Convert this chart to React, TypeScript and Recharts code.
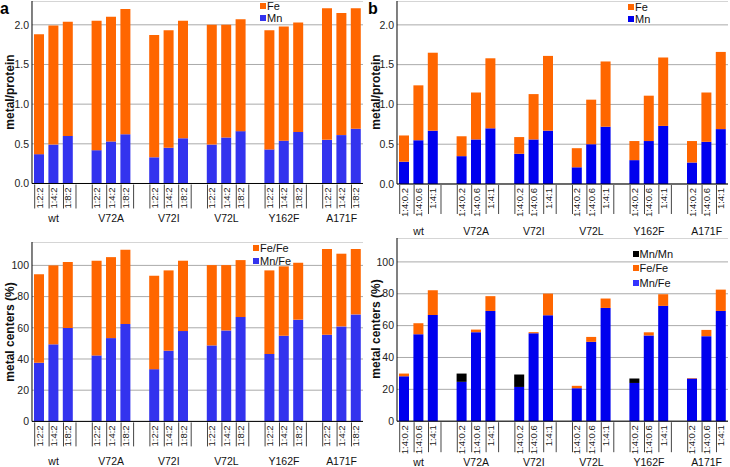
import React from 'react';
import { BarChart, Bar, XAxis, YAxis, CartesianGrid } from 'recharts';

const FONT = '"Liberation Sans", Arial, sans-serif';
const ORANGE = '#ff6600';
const BLUE_LIGHT = '#3333ee';
const BLUE = '#0000ee';
const BLACK = '#000000';

const groups = ['wt', 'V72A', 'V72I', 'V72L', 'Y162F', 'A171F'];
const ratiosA = ['1:2:2', '1:4:2', '1:8:2'];
const ratiosB = ['1:4:0.2', '1:4:0.6', '1:4:1'];

// panel a: metal/protein, Mn:Fe:protein series
const mnA = [0.37, 0.49, 0.6, 0.42, 0.53, 0.62, 0.33, 0.45, 0.57, 0.49, 0.58, 0.66, 0.43, 0.54, 0.65, 0.55, 0.61, 0.69];
const feA = [1.51, 1.5, 1.44, 1.63, 1.57, 1.58, 1.54, 1.48, 1.48, 1.51, 1.42, 1.41, 1.5, 1.44, 1.38, 1.66, 1.54, 1.52];

// panel b: metal/protein, Fe titration
const mnB = [0.28, 0.55, 0.67, 0.35, 0.56, 0.7, 0.38, 0.56, 0.67, 0.21, 0.5, 0.72, 0.3, 0.54, 0.73, 0.27, 0.53, 0.69];
const feB = [0.33, 0.69, 0.98, 0.25, 0.59, 0.88, 0.21, 0.57, 0.94, 0.24, 0.56, 0.82, 0.24, 0.57, 0.86, 0.27, 0.62, 0.97];

// panel c: metal centers (%)
const mnFeC = [37.6, 49.4, 59.8, 42.3, 53.4, 62.4, 33.5, 45.3, 57.9, 48.7, 58.3, 66.9, 43.2, 54.9, 65.2, 55.6, 60.9, 68.6];
const feFeC = [56.8, 50.6, 42.3, 60.7, 51.9, 47.6, 59.9, 51.5, 45.1, 51.5, 41.9, 36.5, 53.6, 44.5, 36.5, 54.9, 46.6, 41.9];

// panel d: metal centers (%)
const mnFeD = [28.2, 54.6, 66.7, 24.7, 55.9, 69.2, 21.5, 55.2, 66.5, 20.7, 49.8, 71.1, 24.0, 53.8, 72.4, 26.8, 53.4, 69.2];
const feFeD = [1.7, 6.9, 15.5, 0, 1.6, 9.3, 0, 0.7, 13.6, 1.5, 3.1, 5.9, 0, 2.0, 7.3, 0.3, 3.9, 13.4];
const mnMnD = [0, 0, 0, 5.2, 0, 0, 7.8, 0, 0, 0, 0, 0, 2.8, 0, 0, 0, 0, 0];

const ticksProtein = [0, 0.5, 1, 1.5, 2];
const ticksPercent = [0, 20, 40, 60, 80, 100];

type Row = { key: string; group: string; label: string; pos: number; [k: string]: any };

function buildRows(labels: string[], series: Record<string, number[]>): Row[] {
  const rows: Row[] = [];
  groups.forEach((g, gi) => {
    labels.forEach((lab, li) => {
      const row: Row = { key: `${g}|${lab}`, group: g, label: lab, pos: li };
      Object.keys(series).forEach((k) => {
        row[k] = series[k][gi * 3 + li];
      });
      rows.push(row);
    });
    if (gi < groups.length - 1) rows.push({ key: `gap${gi}`, group: g, label: '', pos: -1 });
  });
  return rows;
}

const rowsA = buildRows(ratiosA, { mn: mnA, fe: feA });
const rowsB = buildRows(ratiosB, { mn: mnB, fe: feB });
const rowsC = buildRows(ratiosA, { mnfe: mnFeC, fefe: feFeC });
const rowsD = buildRows(ratiosB, { mnfe: mnFeD, fefe: feFeD, mnmn: mnMnD });

const makeTick = (rows: Row[], boxH: number, groupDy: number) => (props: any) => {
  const { x, y, payload } = props;
  const row = rows.find((r) => r.key === payload.value);
  if (!row || row.pos < 0) return <g />;
  return (
    <g>
      <line x1={x - 4.5} x2={x - 4.5} y1={y + 1} y2={y + boxH} stroke="#444" strokeWidth={1} />
      {row.pos === 2 && <line x1={x + 8} x2={x + 8} y1={y + 1} y2={y + boxH} stroke="#444" strokeWidth={1} />}
      <text
        transform={`rotate(-90, ${x}, ${y + 4})`}
        x={x}
        y={y + 4}
        dy="0.35em"
        textAnchor="end"
        fontSize={9.5}
        fill="#222"
        fontFamily={FONT}
      >
        {row.label}
      </text>
      {row.pos === 1 && (
        <text x={x} y={y + groupDy} textAnchor="middle" fontSize={10.5} fill="#111" fontFamily={FONT}>
          {row.group}
        </text>
      )}
    </g>
  );
};

interface PanelProps {
  rows: Row[];
  bars: { key: string; color: string }[];
  max: number;
  ticks: number[];
  digits: number;
  left: number;
  top: number;
  plotW: number;
  plotH: number;
  axisH: number;
  boxH: number;
  groupDy: number;
  yLabel: string;
  labelX: number;
  legend: { name: string; color: string }[];
  legendX: number;
  legendY: number;
  legendGap: number;
}

const YW = 32;

const Panel: React.FC<PanelProps> = (p) => {
  const labelY = p.top + p.plotH / 2;
  return (
    <>
      <div style={{ position: 'absolute', left: p.left - YW, top: p.top }}>
        <BarChart
          width={YW + p.plotW}
          height={p.plotH + p.axisH}
          data={p.rows}
          margin={{ top: 0, right: 0, bottom: 0, left: 0 }}
        >
          <CartesianGrid vertical={false} stroke="#aaa" />
          <XAxis
            dataKey="key"
            interval={0}
            height={p.axisH}
            tickLine={false}
            tickSize={0}
            tickMargin={0}
            axisLine={{ stroke: '#000' }}
            tick={makeTick(p.rows, p.boxH, p.groupDy)}
          />
          <YAxis
            width={YW}
            domain={[0, p.max]}
            ticks={p.ticks}
            tickLine={false}
            tickSize={0}
            tickMargin={3}
            axisLine={{ stroke: '#000' }}
            tickFormatter={(v: number) => v.toFixed(p.digits)}
            tick={{ fontSize: 10.5, fill: '#222', fontFamily: FONT }}
          />
          {p.bars.map((b) => (
            <Bar key={b.key} dataKey={b.key} stackId="s" fill={b.color} barSize={10} isAnimationActive={false} />
          ))}
        </BarChart>
      </div>
      <div
        style={{
          position: 'absolute',
          left: p.labelX,
          top: labelY,
          transform: 'translate(-50%, -50%) rotate(-90deg)',
          fontSize: 12,
          fontWeight: 'bold',
          whiteSpace: 'nowrap',
          color: '#111',
        }}
      >
        {p.yLabel}
      </div>
      {p.legend.map((l, i) => (
        <div
          key={l.name}
          style={{
            position: 'absolute',
            left: p.legendX,
            top: p.legendY + i * p.legendGap,
            display: 'flex',
            alignItems: 'center',
            fontSize: 11,
            lineHeight: '12px',
            color: '#111',
            whiteSpace: 'nowrap',
          }}
        >
          <span style={{ display: 'inline-block', width: 6, height: 6, background: l.color, marginRight: 1 }} />
          {l.name}
        </div>
      ))}
    </>
  );
};

export default function App() {
  return (
    <div
      style={{
        position: 'absolute',
        left: 0,
        top: 0,
        width: 730,
        height: 467,
        background: '#fff',
        fontFamily: FONT,
        overflow: 'hidden',
      }}
    >
      <div style={{ position: 'absolute', left: 0, top: 0, fontSize: 16, fontWeight: 'bold' }}>a</div>
      <div style={{ position: 'absolute', left: 368, top: 0, fontSize: 16, fontWeight: 'bold' }}>b</div>
      <Panel
        rows={rowsA}
        bars={[
          { key: 'mn', color: BLUE_LIGHT },
          { key: 'fe', color: ORANGE },
        ]}
        max={2.3}
        ticks={ticksProtein}
        digits={1}
        left={31.5}
        top={0.5}
        plotW={331.2}
        plotH={182.5}
        axisH={45}
        boxH={25}
        groupDy={39}
        yLabel="metal/protein"
        labelX={10}
        legend={[
          { name: 'Fe', color: ORANGE },
          { name: 'Mn', color: BLUE_LIGHT },
        ]}
        legendX={260}
        legendY={0}
        legendGap={12}
      />
      <Panel
        rows={rowsB}
        bars={[
          { key: 'mn', color: BLUE },
          { key: 'fe', color: ORANGE },
        ]}
        max={2.3}
        ticks={ticksProtein}
        digits={1}
        left={397.1}
        top={0.5}
        plotW={331.2}
        plotH={183}
        axisH={57}
        boxH={30}
        groupDy={51.3}
        yLabel="metal/protein"
        labelX={376}
        legend={[
          { name: 'Fe', color: ORANGE },
          { name: 'Mn', color: BLUE },
        ]}
        legendX={628}
        legendY={0.5}
        legendGap={12}
      />
      <Panel
        rows={rowsC}
        bars={[
          { key: 'mnfe', color: BLUE_LIGHT },
          { key: 'fefe', color: ORANGE },
        ]}
        max={115}
        ticks={ticksPercent}
        digits={0}
        left={31.5}
        top={242.3}
        plotW={331.2}
        plotH={179.4}
        axisH={46}
        boxH={25}
        groupDy={44}
        yLabel="metal centers (%)"
        labelX={10}
        legend={[
          { name: 'Fe/Fe', color: ORANGE },
          { name: 'Mn/Fe', color: BLUE_LIGHT },
        ]}
        legendX={253}
        legendY={241.5}
        legendGap={13}
      />
      <Panel
        rows={rowsD}
        bars={[
          { key: 'mnfe', color: BLUE },
          { key: 'fefe', color: ORANGE },
          { key: 'mnmn', color: BLACK },
        ]}
        max={115}
        ticks={ticksPercent}
        digits={0}
        left={397.1}
        top={237.8}
        plotW={331.2}
        plotH={183.2}
        axisH={47}
        boxH={31}
        groupDy={44.5}
        yLabel="metal centers (%)"
        labelX={376}
        legend={[
          { name: 'Mn/Mn', color: BLACK },
          { name: 'Fe/Fe', color: ORANGE },
          { name: 'Mn/Fe', color: '#3333ff' },
        ]}
        legendX={632.5}
        legendY={247.5}
        legendGap={14.5}
      />
    </div>
  );
}
